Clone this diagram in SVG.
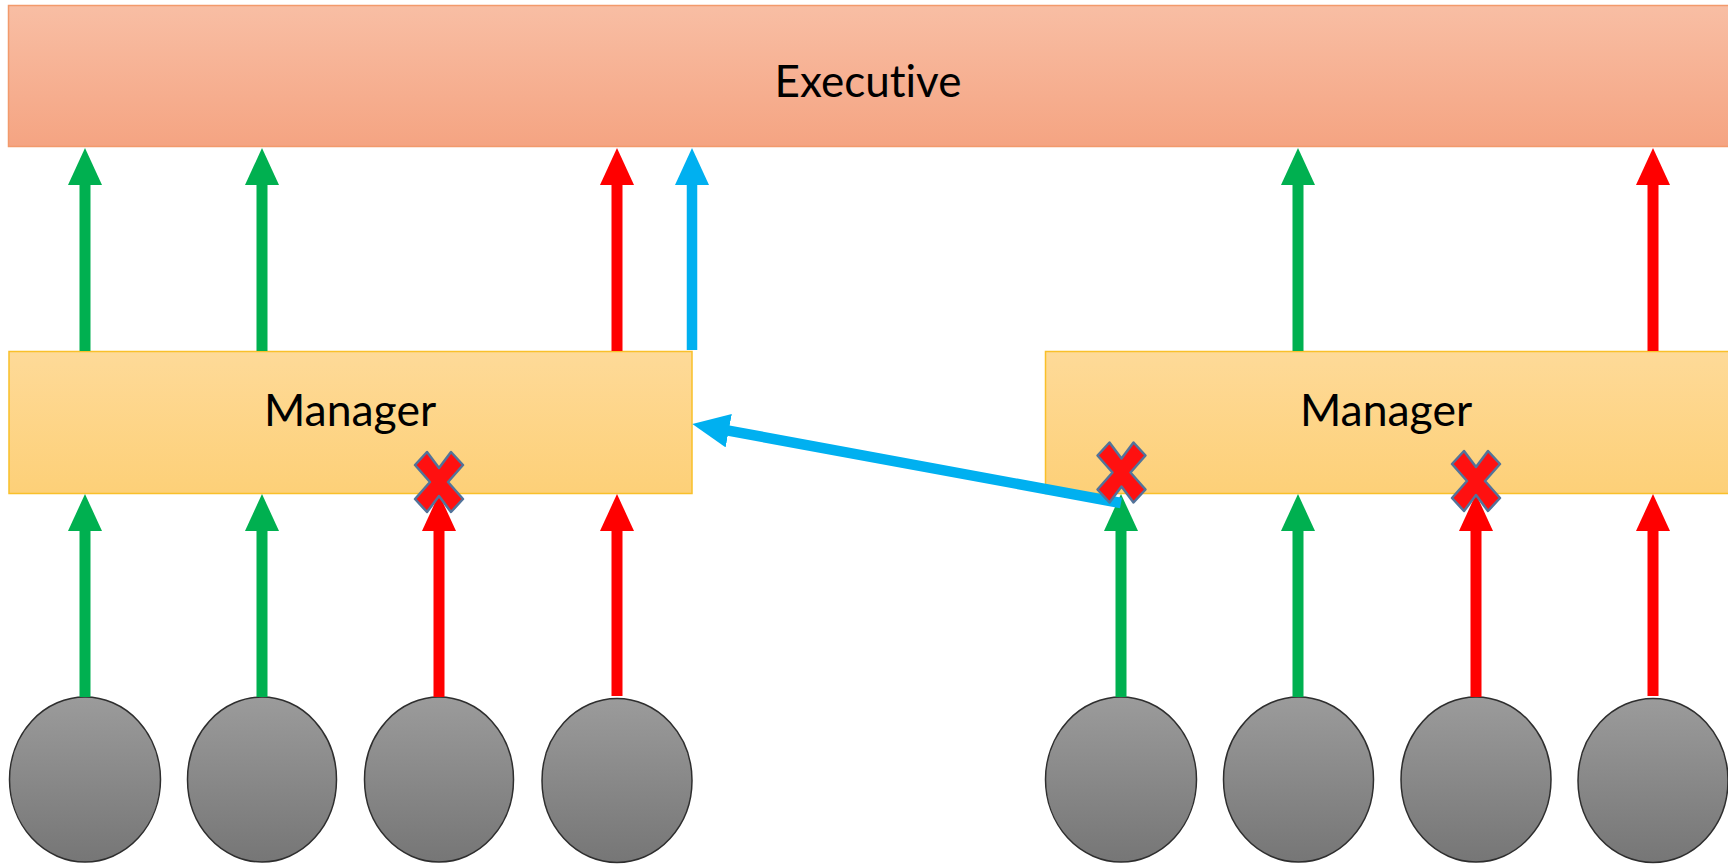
<svg xmlns="http://www.w3.org/2000/svg" width="1728" height="864" viewBox="0 0 1728 864">
  <defs>
    <linearGradient id="execFill" x1="0" y1="0" x2="0" y2="1">
      <stop offset="0" stop-color="#F8BEA4"/>
      <stop offset="1" stop-color="#F5A482"/>
    </linearGradient>
    <linearGradient id="mgrFill" x1="0" y1="0" x2="0" y2="1">
      <stop offset="0" stop-color="#FEDA98"/>
      <stop offset="1" stop-color="#FDD078"/>
    </linearGradient>
    <linearGradient id="staffFill" x1="0" y1="0" x2="0" y2="1">
      <stop offset="0" stop-color="#9B9B9B"/>
      <stop offset="1" stop-color="#767676"/>
    </linearGradient>
    <marker id="headGreen" markerUnits="userSpaceOnUse" viewBox="0 0 37 34" markerWidth="37" markerHeight="34" refX="17" refY="17" orient="auto">
      <path d="M0,0 L37,17 L0,34 z" fill="#00B050"/>
    </marker>
    <marker id="headRed" markerUnits="userSpaceOnUse" viewBox="0 0 37 34" markerWidth="37" markerHeight="34" refX="17" refY="17" orient="auto">
      <path d="M0,0 L37,17 L0,34 z" fill="#FF0000"/>
    </marker>
    <marker id="headBlue" markerUnits="userSpaceOnUse" viewBox="0 0 37 34" markerWidth="37" markerHeight="34" refX="17" refY="17" orient="auto">
      <path d="M0,0 L37,17 L0,34 z" fill="#00B0F0"/>
    </marker>
    <!-- thick multiply sign, centred on the origin -->
    <polygon id="cross" points="-24,-17 -12,-30 0,-14 12,-30 24,-17 9,0 24,17 12,30 0,14 -12,30 -24,17 -9,0"/>
  </defs>
  <style>
    .exec { fill: url(#execFill); stroke: #F29A6C; stroke-width: 1.5; }
    .mgr { fill: url(#mgrFill); stroke: #F9C02A; stroke-width: 1.5; }
    .staff { fill: url(#staffFill); stroke: #2E2E2E; stroke-width: 1.5; }
    .label { font-family: Lato, "Liberation Sans", sans-serif; fill: #000; text-anchor: middle; font-variant-ligatures: none; }
    .ok { stroke: #00B050; stroke-width: 11; fill: none; marker-end: url(#headGreen); }
    .bad { stroke: #FF0000; stroke-width: 11; fill: none; marker-end: url(#headRed); }
    .skip { stroke: #00B0F0; stroke-width: 10.5; fill: none; marker-end: url(#headBlue); }
    .blocked { fill: #FF1010; stroke: #52739A; stroke-width: 2.5; stroke-linejoin: round; }
  </style>

  <!-- nodes -->
  <g id="executive">
    <rect class="exec" x="8.5" y="5.5" width="1722" height="141"/>
    <text class="label" x="868" y="97" font-size="44">Executive</text>
  </g>
  <g id="manager-left">
    <rect class="mgr" x="9" y="351.5" width="683" height="142"/>
    <text class="label" x="350" y="426" font-size="44.5">Manager</text>
  </g>
  <g id="manager-right">
    <rect class="mgr" x="1045.5" y="351.5" width="690" height="142"/>
    <text class="label" x="1386" y="426" font-size="44.5">Manager</text>
  </g>
  <g id="staff-1"><ellipse class="staff" cx="85" cy="779.5" rx="75.5" ry="82.5"/></g>
  <g id="staff-2"><ellipse class="staff" cx="262" cy="779.5" rx="74.5" ry="82.5"/></g>
  <g id="staff-3"><ellipse class="staff" cx="439" cy="779.5" rx="74.5" ry="82.5"/></g>
  <g id="staff-4"><ellipse class="staff" cx="617" cy="780.5" rx="75" ry="82"/></g>
  <g id="staff-5"><ellipse class="staff" cx="1121" cy="779.5" rx="75.5" ry="82.5"/></g>
  <g id="staff-6"><ellipse class="staff" cx="1298.5" cy="779.5" rx="75" ry="82.5"/></g>
  <g id="staff-7"><ellipse class="staff" cx="1476" cy="779.5" rx="75" ry="82.5"/></g>
  <g id="staff-8"><ellipse class="staff" cx="1653" cy="780.5" rx="75" ry="82"/></g>

  <!-- connectors -->
  <g id="connectors">
    <!-- managers to executive -->
    <line class="ok" x1="85" y1="351" x2="85" y2="168"/>
    <line class="ok" x1="262" y1="351" x2="262" y2="168"/>
    <line class="bad" x1="617" y1="351" x2="617" y2="168"/>
    <line class="skip" x1="692" y1="350" x2="692" y2="168"/>
    <line class="ok" x1="1298" y1="351" x2="1298" y2="168"/>
    <line class="bad" x1="1653" y1="351" x2="1653" y2="168"/>
    <!-- staff to managers -->
    <line class="ok" x1="85" y1="697" x2="85" y2="514"/>
    <line class="ok" x1="262" y1="697" x2="262" y2="514"/>
    <line class="bad" x1="439" y1="697" x2="439" y2="514"/>
    <line class="bad" x1="617" y1="696" x2="617" y2="514"/>
    <line class="ok" x1="1121" y1="697" x2="1121" y2="514"/>
    <line class="ok" x1="1298" y1="697" x2="1298" y2="514"/>
    <line class="bad" x1="1476" y1="697" x2="1476" y2="514"/>
    <line class="bad" x1="1653" y1="696" x2="1653" y2="514"/>
    <!-- bypass to the other manager -->
    <line class="skip" x1="1121" y1="503" x2="712" y2="427.6"/>
  </g>

  <!-- blocked hand-offs -->
  <g id="blocked-marks">
    <use href="#cross" class="blocked" x="439" y="482"/>
    <use href="#cross" class="blocked" x="1121.5" y="472.5"/>
    <use href="#cross" class="blocked" x="1476" y="481"/>
  </g>
</svg>
